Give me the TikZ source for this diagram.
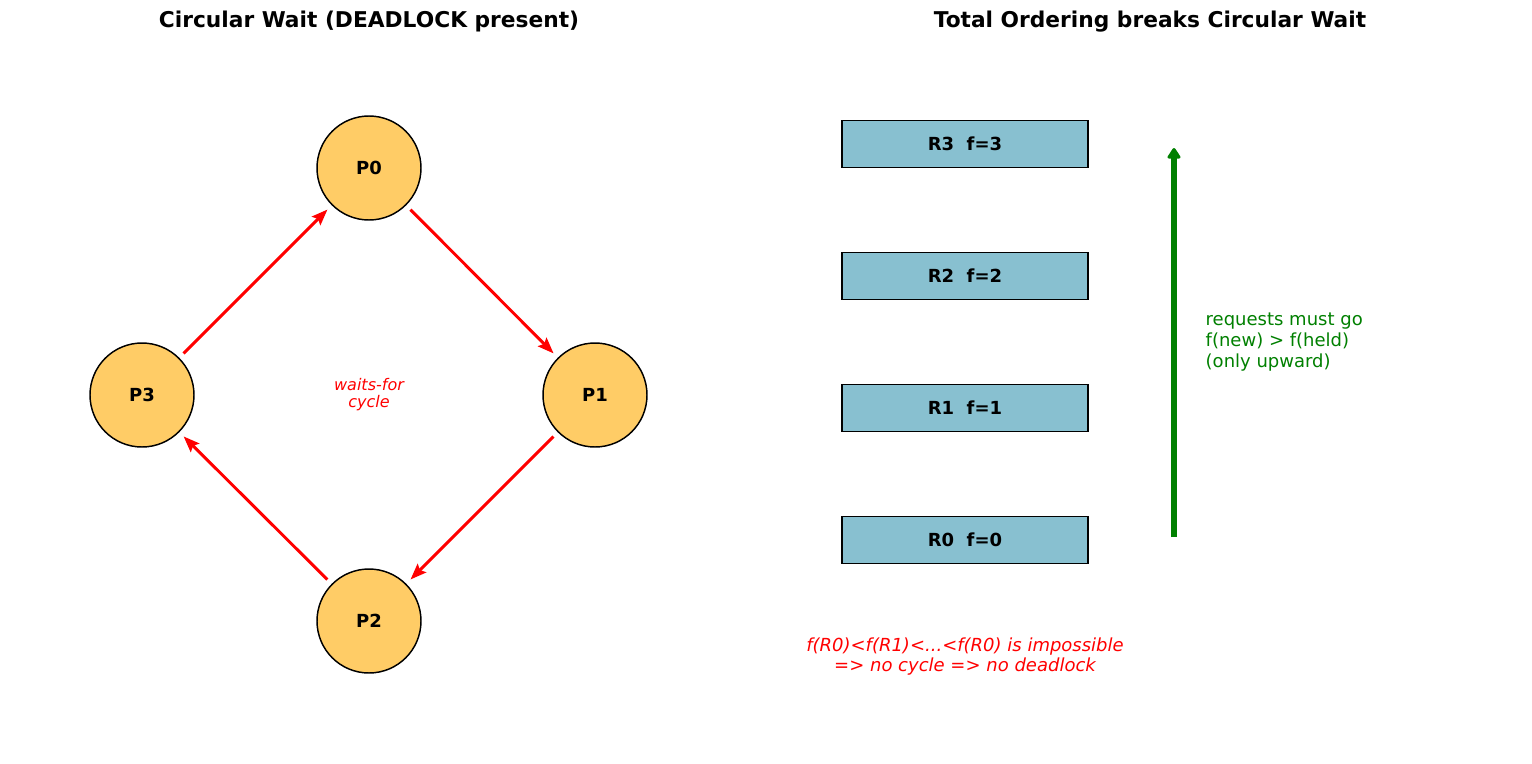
\documentclass[tikz,border=0pt]{standalone}
\usepackage{fontspec}
\setmainfont{DejaVu Sans}
\usepackage{xcolor}
\usetikzlibrary{arrows.meta}
\definecolor{procfill}{RGB}{255,204,102}
\definecolor{resfill}{RGB}{136,192,208}
\definecolor{okgreen}{RGB}{0,128,0}
\tikzset{
  proc/.style={circle,draw=black,line width=1.1pt,fill=procfill,minimum size=78pt,inner sep=0pt,font=\fontsize{13.5}{16}\selectfont\bfseries},
  res/.style={rectangle,draw=black,line width=1.1pt,fill=resfill,minimum width=184.5pt,minimum height=35pt,inner sep=0pt,font=\fontsize{13.5}{16}\selectfont\bfseries},
  waits/.style={-{Stealth[length=12pt,width=9pt,inset=2pt]},red,line width=2.2pt,shorten <=4.5pt,shorten >=4.5pt},
  ttl/.style={font=\fontsize{16.3}{19}\selectfont\bfseries}
}
\begin{document}
\begin{tikzpicture}[x=0.75pt,y=-0.75pt]
\useasboundingbox[fill=white](0,0)rectangle(1532,764);
\node[ttl](t1)at(369,22){Circular Wait (DEADLOCK present)};
\node[ttl](t2)at(1150,22){Total Ordering breaks Circular Wait};
\node[proc](P0)at(369,168){P0};
\node[proc](P1)at(595,395){P1};
\node[proc](P2)at(369,621){P2};
\node[proc](P3)at(142,395){P3};
\draw[waits](P3)--(P0);
\draw[waits](P0)--(P1);
\draw[waits](P1)--(P2);
\draw[waits](P2)--(P3);
\node[red,align=center,font=\fontsize{12}{12.75}\selectfont\itshape](cyc)at(369,395){waits-for\\cycle};
\foreach \i/\y in {3/144,2/276,1/408,0/540}
  \node[res](R\i)at(965,\y){R\i\ \ f=\i};
\coordinate(lo)at(1174,537);
\coordinate(hi)at(1174,148);
\draw[-{Triangle[length=9pt,width=11pt,round]},okgreen,line width=3.8pt](lo)--(hi);
\node[okgreen,align=left,anchor=west,font=\fontsize{13.5}{15.75}\selectfont](rule)at(1201,342){requests must go\\f(new) > f(held)\\(only upward)};
\node[red,align=center,font=\fontsize{13.5}{15}\selectfont\itshape](imp)at(965,657){f(R0)<f(R1)<...<f(R0) is impossible\\=> no cycle => no deadlock};
\end{tikzpicture}
\end{document}
